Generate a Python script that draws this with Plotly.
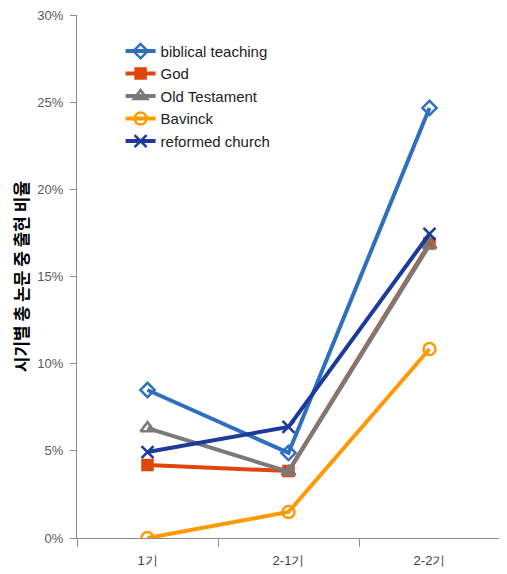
import plotly.graph_objects as go

categories = ["1기", "2-1기", "2-2기"]
biblical_teaching = [0.0849, 0.0488, 0.2467]
god = [0.0419, 0.0384, 0.169]
old_testament = [0.063, 0.038, 0.168]
bavinck = [0.0, 0.0149, 0.1084]
reformed_church = [0.0493, 0.0637, 0.1744]
y_ticks = [0.0, 0.05, 0.10, 0.15, 0.20, 0.25, 0.30]
y_tick_labels = ["0%", "5%", "10%", "15%", "20%", "25%", "30%"]
y_title = "시기별 총 논문 중 출현 비율"

series = [
    ("biblical teaching", biblical_teaching, "#2E6FBF", "diamond-open", 11),
    ("God", god, "#E0450F", "square", 10),
    ("Old Testament", old_testament, "#7A7A7A", "triangle-up-open", 12),
    ("Bavinck", bavinck, "#FF9A05", "circle-open", 12),
    ("reformed church", reformed_church, "#1C3A9E", "x-thin-open", 12),
]

fig = go.Figure()
for name, vals, color, sym, size in series:
    fig.add_trace(go.Scatter(
        x=categories, y=vals, name=name, mode="lines+markers",
        line=dict(color=color, width=4),
        marker=dict(symbol=sym, size=size, color=color,
                    line=dict(color=color, width=2.5)),
    ))

fig.add_annotation(
    text="<b>" + y_title + "</b>", textangle=-90,
    xref="paper", yref="paper", x=-0.133, y=0.5,
    xanchor="center", yanchor="middle", showarrow=False,
    font=dict(family="Noto Sans CJK KR", size=17, color="#000000"),
)

fig.update_layout(
    width=499, height=566,
    margin=dict(l=69, r=7, t=7, b=36),
    paper_bgcolor="white", plot_bgcolor="white",
    font=dict(family="Liberation Sans, Arial, sans-serif", size=13, color="#595959"),
    showlegend=True,
    legend=dict(x=0.103, y=0.962, xanchor="left", yanchor="top",
                bgcolor="rgba(0,0,0,0)", font=dict(size=15, color="#222222"),
                tracegroupgap=0, itemwidth=30),
    xaxis=dict(type="category", range=[-0.5, 2.5], showline=True, linecolor="#8C8C8C",
               linewidth=1, ticks="outside", tickson="boundaries", ticklen=8,
               tickcolor="#8C8C8C", showgrid=False, zeroline=False, automargin=False,
               ticklabelstandoff=10,
               tickfont=dict(size=13, color="#404040")),
    yaxis=dict(range=[0, 0.30], tickmode="array", tickvals=y_ticks, ticktext=y_tick_labels,
               showline=True, ticklabeloverflow="allow",
               linecolor="#8C8C8C", linewidth=1, ticks="outside", ticklen=6,
               tickcolor="#8C8C8C", showgrid=False, zeroline=False, automargin=False,
               ticklabelstandoff=4,
               tickfont=dict(size=13, color="#595959")),
)

fig.write_html("out.html")
